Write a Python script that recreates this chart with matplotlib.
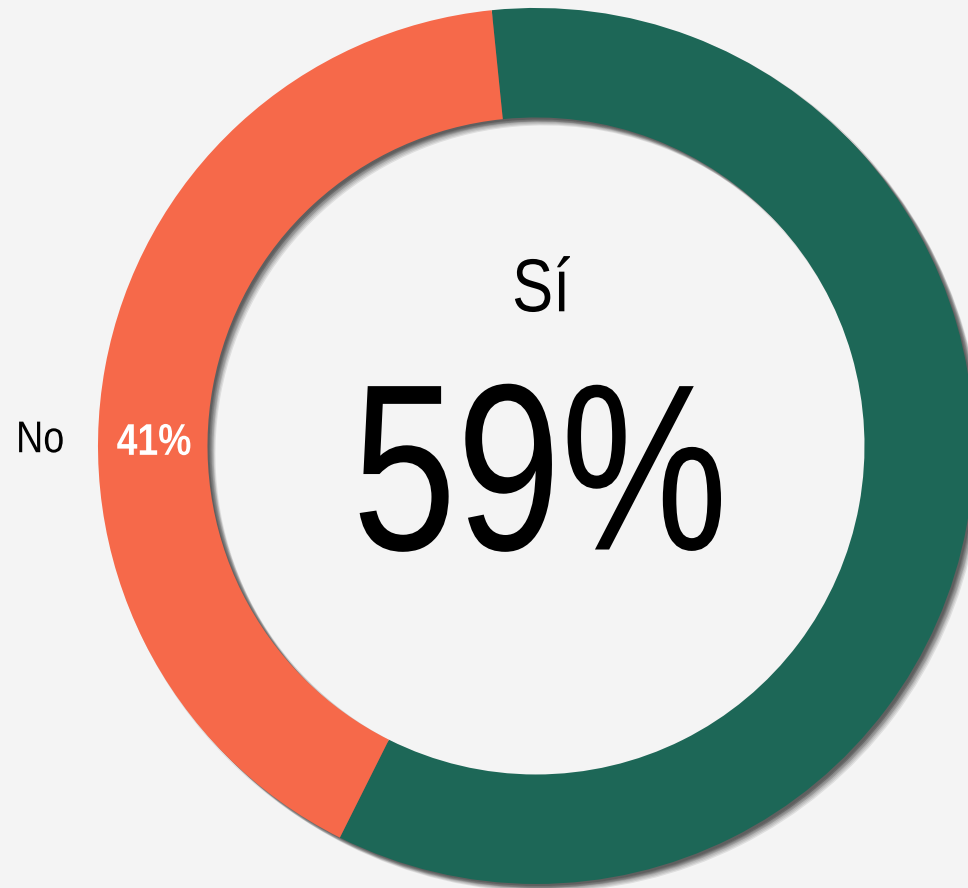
import numpy as np
import matplotlib
matplotlib.use('Agg')
import matplotlib.pyplot as plt
import matplotlib.transforms as mtransforms
from matplotlib.patheffects import AbstractPathEffect

# data
labels = ['Sí', 'No']
values = [59, 41]
colors = ['#1D6757', '#F6694A']

bg = '#F4F4F4'
plt.rcParams['font.family'] = ['Liberation Sans', 'DejaVu Sans']


class Narrow(AbstractPathEffect):
    """squeeze glyphs horizontally about the text anchor (Arial Narrow look)"""
    def __init__(self, txt, fx):
        super().__init__()
        self.txt = txt
        self.fx = fx

    def draw_path(self, renderer, gc, tpath, affine, rgbFace=None):
        x0 = self.txt.get_transform().transform(self.txt.get_position())[0]
        squeeze = mtransforms.Affine2D().translate(-x0, 0).scale(self.fx, 1).translate(x0, 0)
        renderer.draw_path(gc, tpath, affine + squeeze, rgbFace)


def narrow_text(x, y, s, fx, **kw):
    t = ax.text(x, y, s, ha='center', va='center', **kw)
    t.set_path_effects([Narrow(t, fx)])
    return t


fig = plt.figure(figsize=(9.68, 8.88), dpi=100, facecolor=bg)
ax = fig.add_axes([0, 0, 1, 1])
ax.set_facecolor(bg)

start = 95.8  # Sí starts just left of 12 o'clock, goes clockwise
ring = dict(width=0.25, edgecolor='none', linewidth=0)

# soft drop shadow (several faint offset copies)
for dx, dy in [(2, -2), (3, -3), (4, -4), (5, -5), (6, -6), (7, -7), (8, -8), (4, -2), (2, -4), (6, -4)]:
    off = mtransforms.ScaledTranslation(dx / 100, dy / 100, fig.dpi_scale_trans)
    wedges, _ = ax.pie(values, startangle=start, counterclock=False,
                       colors=['#000000'] * len(values), radius=1,
                       wedgeprops=ring, center=(0, 0), frame=True)
    for w in wedges:
        w.set_transform(w.get_transform() + off)
        w.set_alpha(0.085)

wedges, _ = ax.pie(values, startangle=start, counterclock=False, colors=colors,
                   radius=1, wedgeprops=ring, center=(0, 0), frame=True)
ax.set_xlim(-1.2237, 0.9863)
ax.set_ylim(-1.009, 1.018)
ax.set_aspect('equal')
ax.axis('off')

# centre label for the larger share
narrow_text(0.012, 0.352, labels[0], 0.82, fontsize=54, color='black')
narrow_text(0.009, -0.096, f'{values[0]}%', 0.79, fontsize=171, color='black')

# small share label
narrow_text(-1.132, 0.012, labels[1], 0.85, fontsize=32, color='black')
narrow_text(-0.872, 0.006, f'{values[1]}%', 0.84, fontsize=32,
            fontweight='bold', color='white')

fig.savefig('out.png', dpi=100, facecolor=bg)
